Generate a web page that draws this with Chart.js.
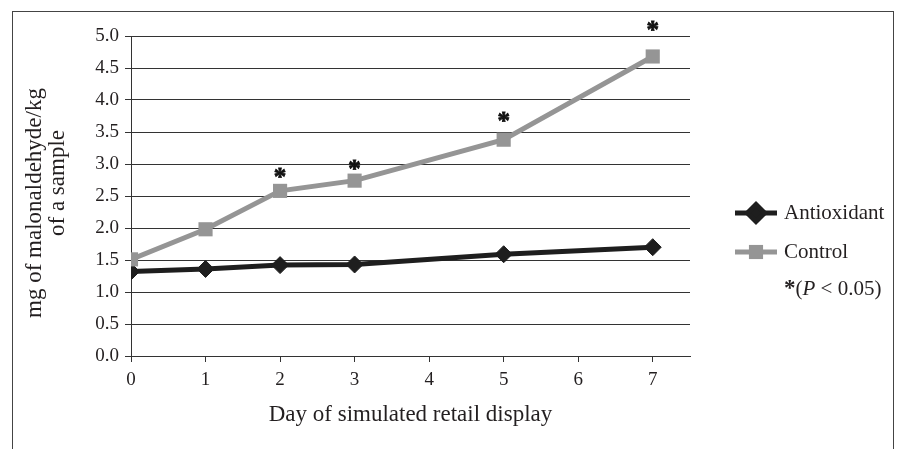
<!DOCTYPE html>
<html><head><meta charset="utf-8">
<script src="https://cdn.jsdelivr.net/npm/chart.js@4/dist/chart.umd.min.js"></script>
<style>
html,body{margin:0;padding:0;background:#fff;overflow:hidden;}
#wrap{position:relative;width:897px;height:449px;}
#frame{position:absolute;left:12px;top:11px;width:882px;height:470px;border:1px solid #444;border-bottom:none;box-sizing:border-box;}
#c{position:absolute;left:0;top:0;}
</style></head><body>
<div id="wrap"><div id="frame"></div><canvas id="c" width="897" height="449"></canvas></div>
<script>
// ---- data ----
const days = [0, 1, 2, 3, 5, 7];
const antioxidant = [1.32, 1.36, 1.42, 1.43, 1.59, 1.70];
const control = [1.51, 1.98, 2.58, 2.74, 3.38, 4.68];
const seriesNames = ['Antioxidant', 'Control'];
const sigDays = [2, 3, 5, 7];            // days marked with *
const sigMarkY = [2.86, 2.98, 3.74, 5.15]; // vertical value where each * sits
const xTicks = [0, 1, 2, 3, 4, 5, 6, 7];
const yTitleLines = ['mg of malonaldehyde/kg', 'of a sample'];
const xTitle = 'Day of simulated retail display';
const sigNote = ['*', '(', 'P', ' < 0.05)'];

const SERIF = '"Liberation Serif", "Times New Roman", serif';
const TXT = '#231f20';
const BLACK = '#1e1e1e';
const GRAY = '#959595';

const extras = {
  id: 'extras',
  afterDatasetsDraw(chart) {
    const {ctx, scales: {x, y}} = chart;
    ctx.save();
    // significance asterisks
    ctx.fillStyle = '#111';
    ctx.strokeStyle = '#111';
    ctx.lineWidth = 0.8;
    ctx.font = 'bold 25px ' + SERIF;
    ctx.textAlign = 'center';
    ctx.textBaseline = 'alphabetic';
    const m = ctx.measureText('*');
    const off = (m.actualBoundingBoxAscent - m.actualBoundingBoxDescent) / 2;
    sigDays.forEach((d, i) => {
      const px = x.getPixelForValue(d), py = y.getPixelForValue(sigMarkY[i]) + off;
      ctx.fillText('*', px, py);
      ctx.strokeText('*', px, py);
    });
    ctx.restore();
  },
  afterDraw(chart) {
    const {ctx, chartArea} = chart;
    ctx.save();
    // y title (two rotated lines)
    ctx.fillStyle = TXT;
    ctx.font = '23px ' + SERIF;
    ctx.textAlign = 'center';
    ctx.textBaseline = 'middle';
    const yLinePos = [[35, 203], [58, 183]];
    yTitleLines.forEach((t, i) => {
      ctx.save();
      ctx.translate(yLinePos[i][0], yLinePos[i][1]);
      ctx.rotate(-Math.PI / 2);
      ctx.fillText(t, 0, 0);
      ctx.restore();
    });

    // legend
    const lx0 = chartArea.right + 45, lx1 = chartArea.right + 87, tx = chartArea.right + 94;
    const rows = [213, 252, 289];
    const ds = chart.data.datasets;
    ctx.font = '21px ' + SERIF;
    ctx.textAlign = 'left';
    ctx.textBaseline = 'middle';
    ds.forEach((d, i) => {
      const ry = rows[i];
      ctx.strokeStyle = d.borderColor;
      ctx.lineWidth = d.borderWidth;
      ctx.beginPath();
      ctx.moveTo(lx0, ry);
      ctx.lineTo(lx1, ry);
      ctx.stroke();
      ctx.fillStyle = d.pointBackgroundColor;
      ctx.strokeStyle = d.pointBorderColor;
      Chart.helpers.drawPoint(ctx, {pointStyle: d.pointStyle, radius: d.pointRadius, borderWidth: d.pointBorderWidth, rotation: 0}, (lx0 + lx1) / 2, ry);
      ctx.fillStyle = TXT;
      ctx.fillText(d.label, tx, ry);
    });
    // significance note
    let cx = tx;
    const ry = rows[2];
    const fonts = ['bold 23px ' + SERIF, '21px ' + SERIF, 'italic 21px ' + SERIF, '21px ' + SERIF];
    sigNote.forEach((s, i) => {
      ctx.font = fonts[i];
      ctx.fillStyle = TXT;
      ctx.fillText(s, cx, ry);
      cx += ctx.measureText(s).width;
    });
    ctx.restore();
  }
};

new Chart(document.getElementById('c'), {
  type: 'line',
  data: {
    datasets: [
      {
        label: seriesNames[0],
        data: days.map((d, i) => ({x: d, y: antioxidant[i]})),
        borderColor: BLACK, backgroundColor: BLACK,
        borderWidth: 5,
        pointStyle: 'rectRot', pointRadius: 8.5,
        pointBackgroundColor: BLACK, pointBorderColor: BLACK, pointBorderWidth: 1,
        tension: 0, order: 1
      },
      {
        label: seriesNames[1],
        data: days.map((d, i) => ({x: d, y: control[i]})),
        borderColor: GRAY, backgroundColor: GRAY,
        borderWidth: 5,
        pointStyle: 'rect', pointRadius: 10,
        pointBackgroundColor: GRAY, pointBorderColor: GRAY, pointBorderWidth: 0,
        tension: 0, order: 0
      }
    ]
  },
  options: {
    responsive: false,
    animation: false,
    events: [],
    layout: {padding: {left: 0, top: 36, right: 207, bottom: 0}},
    plugins: {legend: {display: false}, tooltip: {enabled: false}},
    scales: {
      x: {
        type: 'linear', min: 0, max: 7.5,
        afterBuildTicks: s => { s.ticks = xTicks.map(v => ({value: v})); },
        ticks: {font: {family: SERIF, size: 19}, color: TXT, padding: 7, maxRotation: 0},
        grid: {drawOnChartArea: false, drawTicks: true, tickLength: 6, color: '#333'},
        border: {color: '#333', width: 1},
        title: {display: true, text: xTitle, color: TXT, font: {family: SERIF, size: 23, lineHeight: 1}, padding: {top: 0, bottom: 23}},
        afterFit: s => { s.height = 93; }
      },
      y: {
        min: 0, max: 5,
        ticks: {stepSize: 0.5, callback: v => v.toFixed(1), font: {family: SERIF, size: 19}, color: TXT, padding: 6},
        grid: {color: '#333', tickLength: 6, lineWidth: 1},
        border: {color: '#333', width: 1},
        afterFit: s => { s.width = 131; }
      }
    }
  },
  plugins: [extras]
});
</script>
</body></html>
